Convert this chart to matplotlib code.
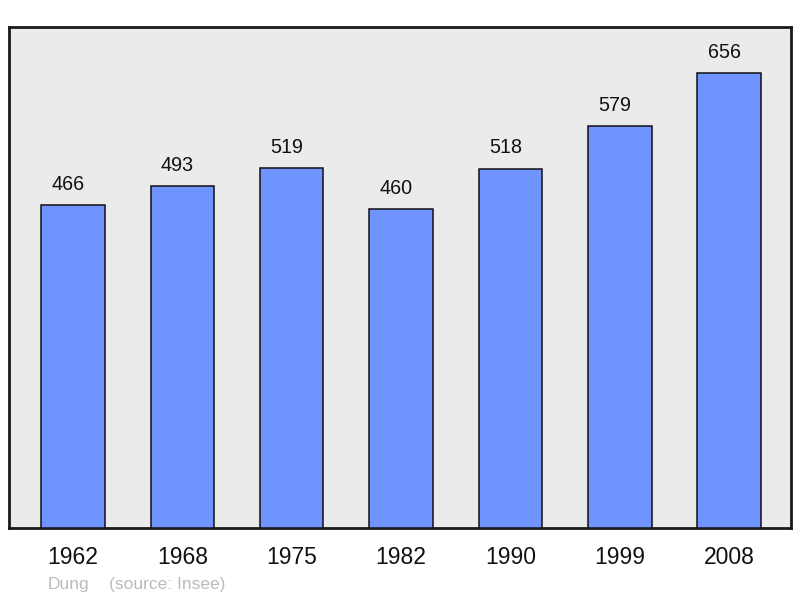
import matplotlib
matplotlib.use("Agg")
import matplotlib.pyplot as plt

years = ["1962", "1968", "1975", "1982", "1990", "1999", "2008"]
population = [466, 493, 519, 460, 518, 579, 656]
footer_author = "Dung"
footer_source = "(source: Insee)"

plt.rcParams['font.family'] = ['Liberation Sans', 'DejaVu Sans']

fig = plt.figure(figsize=(8.0, 5.98), dpi=100)
ax = fig.add_axes([9/800, 70/598, 782/800, 501/598])
ax.set_facecolor('#ebebeb')

x = list(range(len(years)))
bars = ax.bar(x, population, width=0.58, color='#7094ff', edgecolor='#111111', linewidth=1.1, zorder=3)
for xi, v in zip(x, population):
    ax.annotate(str(v), (xi, v), xytext=(-3.6, 8), textcoords='offset points',
                ha='center', va='bottom', fontsize=14.2, color='#111111')

ax.set_xlim(-0.585, len(years) - 1 + 0.565)
ax.set_ylim(0, 722)
ax.set_xticks(x)
ax.set_xticklabels(years, fontsize=16.5, color='#111111')
ax.tick_params(axis='x', length=0, pad=13)
ax.set_yticks([])
for s in ax.spines.values():
    s.set_linewidth(2)
    s.set_color('#1a1a1a')

fig.text(48/800, 1 - 585/598, footer_author, fontsize=12.5, color='#bbbbbb', ha='left', va='center')
fig.text(109/800, 1 - 585/598, footer_source, fontsize=12.5, color='#bbbbbb', ha='left', va='center')

fig.savefig('out.png', dpi=100)
